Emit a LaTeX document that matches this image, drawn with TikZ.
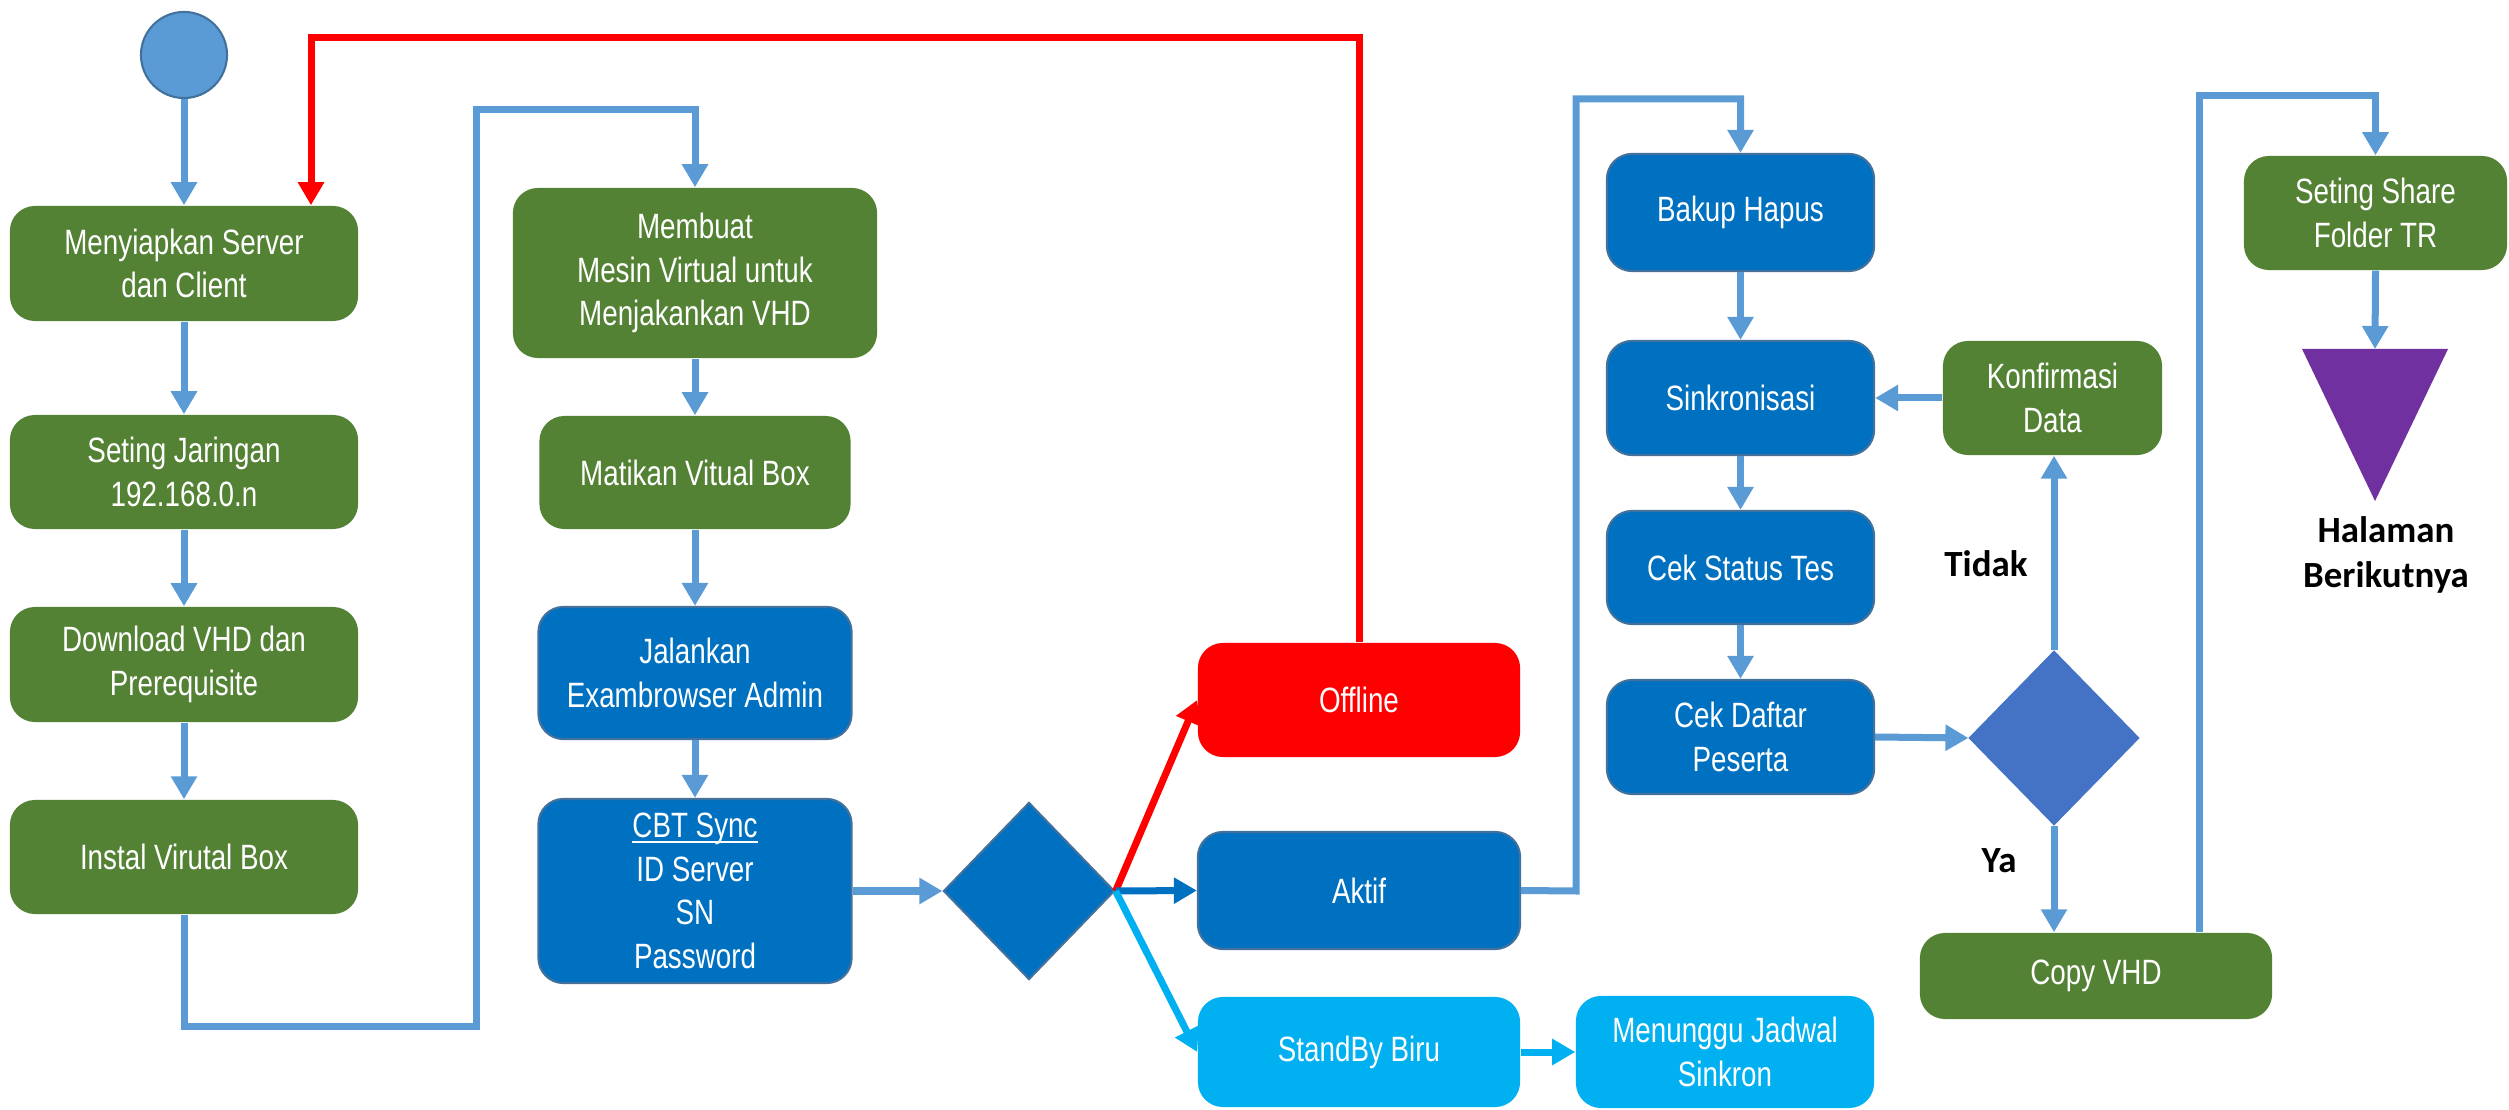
\documentclass[tikz,border=0pt]{standalone}
\usepackage{fontspec}
\setmainfont{Liberation Sans}[FakeStretch=0.79]
\newfontfamily\labelfont{Carlito}
\usetikzlibrary{arrows.meta,shapes.geometric}

\definecolor{boxgreen}{HTML}{548235}
\definecolor{boxblue}{HTML}{0070C0}
\definecolor{boxcyan}{HTML}{00B0F0}
\definecolor{linkblue}{HTML}{5B9BD5}
\definecolor{edgeblue}{HTML}{41719C}
\definecolor{dmdblue}{HTML}{4472C4}
\definecolor{tripurple}{HTML}{7030A0}

% underline set close to the baseline
\newcommand{\lowrule}[1]{{\setbox0\hbox{#1}\rlap{\rule[-1.6pt]{\wd0}{0.55pt}}\box0}}

\tikzset{
  base/.style={rounded corners=0.25cm, text=white, align=center, inner sep=0pt,
    font=\fontsize{10}{12.4}\selectfont},
  greenbox/.style={base, fill=boxgreen},
  bluebox/.style={base, fill=boxblue, draw=edgeblue, line width=0.6pt},
  cyanbox/.style={base, fill=boxcyan},
  redbox/.style={base, fill=red},
  decision/.style={diamond, inner sep=0pt, draw=edgeblue, line width=0.6pt},
  tip/.style={-{Triangle[length=0.23cm,width=0.25cm]}},
  link/.style={tip, draw=linkblue, line width=0.07cm},
  redlink/.style={tip, draw=red, line width=0.07cm},
  darklink/.style={tip, draw=boxblue, line width=0.07cm},
  cyanlink/.style={tip, draw=boxcyan, line width=0.07cm},
  answer/.style={font=\labelfont\bfseries\fontsize{10.5}{12.6}\selectfont, align=center, inner sep=0pt}
}

\begin{document}
\begin{tikzpicture}[x=0.01cm, y=-0.01cm]
\useasboundingbox (0,0) rectangle (2509,1110);

% start
\node[circle, fill=linkblue, draw=edgeblue, line width=0.6pt, minimum size=0.86cm, inner sep=0pt] (start) at (184,55) {};

% preparation column
\node[greenbox, minimum width=3.48cm, minimum height=1.15cm] (n1) at (184,263.5) {Menyiapkan Server\\dan Client};
\node[greenbox, minimum width=3.48cm, minimum height=1.14cm] (n2) at (184,472) {Seting Jaringan\\192.168.0.n};
\node[greenbox, minimum width=3.48cm, minimum height=1.15cm] (n3) at (184,664.5) {Download VHD dan\\Prerequisite};
\node[greenbox, minimum width=3.48cm, minimum height=1.14cm] (n4) at (184,857) {Instal Virutal Box};

% virtual machine column
\node[greenbox, minimum width=3.64cm, minimum height=1.70cm] (m1) at (695,273) {Membuat\\Mesin Virtual untuk\\Menjakankan VHD};
\node[greenbox, minimum width=3.11cm, minimum height=1.13cm] (m2) at (695,472.5) {Matikan Vitual Box};
\node[bluebox, minimum width=3.13cm, minimum height=1.32cm] (m3) at (695,673) {Jalankan\\Exambrowser Admin};
\node[bluebox, minimum width=3.13cm, minimum height=1.84cm] (m4) at (695,891) {\lowrule{CBT Sync}\\ID Server\\SN\\Password};

% status decision
\node[decision, fill=boxblue, minimum width=1.71cm, minimum height=1.77cm] (d1) at (1029,891) {};
\node[redbox, minimum width=3.22cm, minimum height=1.14cm] (offline) at (1359,700) {Offline};
\node[bluebox, minimum width=3.22cm, minimum height=1.17cm] (aktif) at (1359,890.5) {Aktif};
\node[cyanbox, minimum width=3.22cm, minimum height=1.10cm] (standby) at (1359,1052) {StandBy Biru};
\node[cyanbox, minimum width=2.98cm, minimum height=1.12cm] (tunggu) at (1725,1052) {Menunggu Jadwal\\Sinkron};

% synchronisation column
\node[bluebox, minimum width=2.67cm, minimum height=1.17cm] (bakup) at (1740.5,212.5) {Bakup Hapus};
\node[bluebox, minimum width=2.67cm, minimum height=1.14cm] (sinkron) at (1740.5,398) {Sinkronisasi};
\node[bluebox, minimum width=2.67cm, minimum height=1.13cm] (status) at (1740.5,567.5) {Cek Status Tes};
\node[bluebox, minimum width=2.67cm, minimum height=1.14cm] (daftar) at (1740.5,737) {Cek Daftar\\Peserta};

% participant check
\node[greenbox, minimum width=2.19cm, minimum height=1.14cm] (konfirmasi) at (2052.5,398) {Konfirmasi\\Data};
\node[decision, fill=dmdblue, draw=dmdblue, minimum width=1.69cm, minimum height=1.73cm] (d2) at (2054,738) {};
\node[greenbox, minimum width=3.52cm, minimum height=0.86cm] (copy) at (2096,976) {Copy VHD};
\node[answer] (tidak) at (1986,564) {Tidak};
\node[answer] (ya) at (1999,861) {Ya};

% share folder and page connector
\node[greenbox, minimum width=2.63cm, minimum height=1.14cm] (share) at (2375.5,213) {Seting Share\\Folder TR};
\fill[tripurple] (2302,349) -- (2448,349) -- (2375,501) -- cycle;
\coordinate (tri) at (2375,349);
\node[answer] (next) at (2386,555) {Halaman\\Berikutnya};

% waypoints of the routed connectors
\coordinate (w1) at (184,1026);
\coordinate (w2) at (476,1026);
\coordinate (w3) at (476,110);
\coordinate (r1) at (311,38);
\coordinate (a1) at (1576,891);
\coordinate (a2) at (1576,99);
\coordinate (c1) at (2199,96);

% connectors
\draw[link] (start) -- (n1);
\draw[link] (n1) -- (n2);
\draw[link] (n2) -- (n3);
\draw[link] (n3) -- (n4);
\draw[link] (n4.south) -- (w1) -- (w2) -- (w3) -| (m1.north);
\draw[link] (m1) -- (m2);
\draw[link] (m2) -- (m3);
\draw[link] (m3) -- (m4);
\draw[link] (m4.east) -- (d1.west);

\draw[redlink] (d1.east) -- (offline.west);
\draw[darklink] (d1.east) -- (aktif.west);
\draw[cyanlink] (d1.east) -- (standby.west);
\draw[cyanlink] (standby.east) -- (tunggu.west);

\draw[redlink] (offline.north) |- (r1) -- (r1 |- n1.north);

\draw[link] (aktif.east) -- (a1) -- (a2) -| (bakup.north);
\draw[link] (bakup) -- (sinkron);
\draw[link] (sinkron) -- (status);
\draw[link] (status) -- (daftar);
\draw[link] (daftar.east) -- (d2.west);
\draw[link] (d2.north) -- (d2.north |- konfirmasi.south);
\draw[link] (konfirmasi.west) -- (sinkron.east);
\draw[link] (d2.south) -- (d2.south |- copy.north);
\draw[link] (copy.north -| c1) -- (c1) -| (share.north);
\draw[link] (share.south) -- (tri);
\end{tikzpicture}
\end{document}
